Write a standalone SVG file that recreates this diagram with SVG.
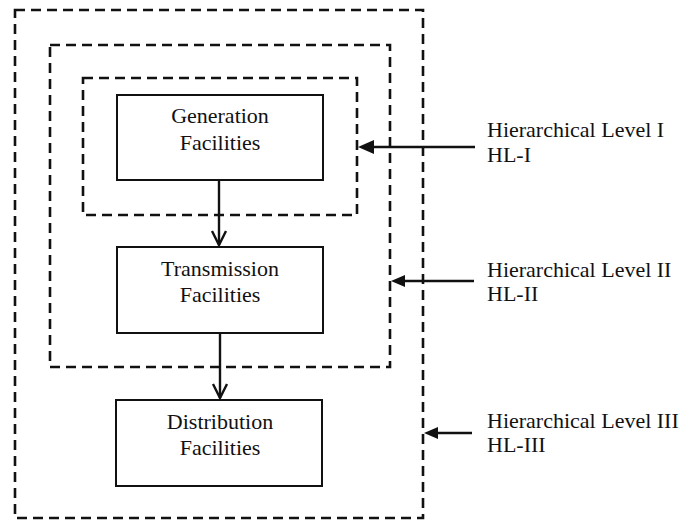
<svg xmlns="http://www.w3.org/2000/svg" width="686" height="522" viewBox="0 0 686 522">
<style>
.lvl{fill:none;stroke:#111;stroke-width:2.6;stroke-dasharray:10 6}
.box{fill:#fff;stroke:#111;stroke-width:2}
.ln{stroke:#111;stroke-width:2.4;fill:none}
.head{fill:none;stroke:#111;stroke-width:2.4}
</style>
<g id="levels">
<rect id="level3" class="lvl" x="15" y="10" width="408" height="508"/>
<rect id="level2" class="lvl" x="50" y="45" width="340" height="322"/>
<rect id="level1" class="lvl" x="83" y="78" width="274" height="137"/>
</g>
<g id="connectors">
<line class="ln" x1="219" y1="181" x2="219" y2="245"/>
<path class="head" d="M212,231 L219,245 L226,231"/>
<line class="ln" x1="220" y1="334" x2="220" y2="398"/>
<path class="head" d="M213,384 L220,398 L227,384"/>
<line class="ln" x1="373" y1="147" x2="475" y2="147"/>
<path d="M358,147 L374,140 L374,154 Z" fill="#111"/>
<line class="ln" x1="404" y1="281" x2="474" y2="281"/>
<path d="M391,281 L405,275 L405,287 Z" fill="#111"/>
<line class="ln" x1="436" y1="433" x2="472" y2="433"/>
<path d="M424,433 L438,427 L438,439 Z" fill="#111"/>
</g>
<g font-family="'Liberation Serif', 'Times New Roman', serif" font-size="22" fill="#111">
<g id="generation">
<rect class="box" x="117" y="95" width="206" height="85"/>
<text x="220" y="123" text-anchor="middle">Generation</text>
<text x="220" y="150" text-anchor="middle">Facilities</text>
</g>
<g id="transmission">
<rect class="box" x="117" y="247" width="206" height="86"/>
<text x="220" y="276" text-anchor="middle">Transmission</text>
<text x="220" y="302" text-anchor="middle">Facilities</text>
</g>
<g id="distribution">
<rect class="box" x="116" y="400" width="206" height="86"/>
<text x="220" y="429" text-anchor="middle">Distribution</text>
<text x="220" y="455" text-anchor="middle">Facilities</text>
</g>
<g id="label1">
<text x="487" y="137">Hierarchical Level I</text>
<text x="487" y="162">HL-I</text>
</g>
<g id="label2">
<text x="487" y="277">Hierarchical Level II</text>
<text x="487" y="301">HL-II</text>
</g>
<g id="label3">
<text x="487" y="428">Hierarchical Level III</text>
<text x="487" y="452">HL-III</text>
</g>
</g>
</svg>
